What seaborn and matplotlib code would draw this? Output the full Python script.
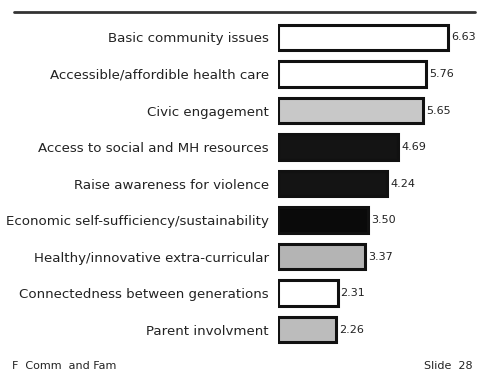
import matplotlib
matplotlib.use("Agg")
import matplotlib.pyplot as plt
import seaborn as sns
import pandas as pd
from matplotlib.lines import Line2D

categories = [
    "Basic community issues",
    "Accessible/affordible health care",
    "Civic engagement",
    "Access to social and MH resources",
    "Raise awareness for violence",
    "Economic self-sufficiency/sustainability",
    "Healthy/innovative extra-curricular",
    "Connectedness between generations",
    "Parent involvment",
]
values = [6.63, 5.76, 5.65, 4.69, 4.24, 3.50, 3.37, 2.31, 2.26]
value_labels = ["6.63", "5.76", "5.65", "4.69", "4.24", "3.50", "3.37", "2.31", "2.26"]
fills = ["white", "white", "#c8c8c8", "#141414", "#141414", "#0a0a0a", "#b4b4b4", "white", "#bcbcbc"]

df = pd.DataFrame({"category": categories, "value": values})

sns.set_style("white")
plt.rcParams["font.family"] = ["DejaVu Sans"]

fig = plt.figure(figsize=(4.8, 3.84), dpi=100)
ax = fig.add_axes([0.58, 0.094, 0.40, 0.856])

sns.barplot(data=df, x="value", y="category", hue="category",
            palette=dict(zip(categories, fills)), legend=False,
            width=0.7, edgecolor="#111111", linewidth=2.2, ax=ax)

for i, (v, lab) in enumerate(zip(values, value_labels)):
    ax.text(v + 0.12, i, lab, ha="left", va="center", fontsize=8, color="#222222")

ax.set_xlim(0, 7.5)
ax.set_xlabel("")
ax.set_ylabel("")
ax.set_xticks([])
ax.tick_params(axis="y", length=0, pad=7, labelsize=9.6, labelcolor="#222222")
sns.despine(ax=ax, left=True, bottom=True)

fig.add_artist(Line2D([0.03, 0.99], [0.968, 0.968], color="#333333", lw=2,
                      transform=fig.transFigure))
fig.text(0.025, 0.048, "F  Comm  and Fam", fontsize=8, color="#222222", va="center")
fig.text(0.985, 0.048, "Slide  28", fontsize=8, color="#222222", va="center", ha="right")

fig.savefig("out.png", dpi=100, facecolor="white")
